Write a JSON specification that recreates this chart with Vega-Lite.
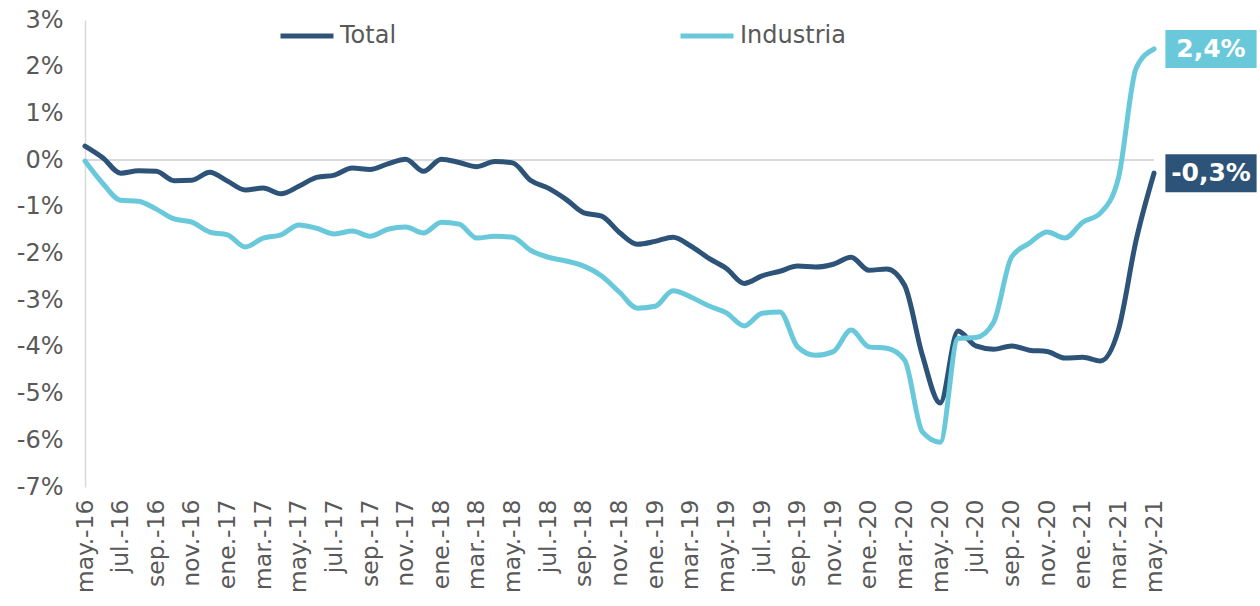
{
  "$schema": "https://vega.github.io/schema/vega-lite/v6.json",
  "width": 1069,
  "height": 467,
  "autosize": {"type": "none"},
  "padding": {"left": 85, "top": 20, "right": 106, "bottom": 119},
  "background": "white",
  "config": {
    "view": {"stroke": null},
    "font": "DejaVu Sans"
  },
  "datasets": {
    "serie": [
      {"mes": "may.-16", "Total": 0.30, "Industria": -0.02},
      {"mes": "jun.-16", "Total": 0.05, "Industria": -0.50},
      {"mes": "jul.-16", "Total": -0.28, "Industria": -0.86},
      {"mes": "ago.-16", "Total": -0.23, "Industria": -0.88},
      {"mes": "sep.-16", "Total": -0.24, "Industria": -1.05},
      {"mes": "oct.-16", "Total": -0.44, "Industria": -1.26},
      {"mes": "nov.-16", "Total": -0.43, "Industria": -1.33},
      {"mes": "dic.-16", "Total": -0.26, "Industria": -1.54},
      {"mes": "ene.-17", "Total": -0.45, "Industria": -1.60},
      {"mes": "feb.-17", "Total": -0.64, "Industria": -1.86},
      {"mes": "mar.-17", "Total": -0.60, "Industria": -1.67},
      {"mes": "abr.-17", "Total": -0.72, "Industria": -1.60},
      {"mes": "may.-17", "Total": -0.56, "Industria": -1.39},
      {"mes": "jun.-17", "Total": -0.37, "Industria": -1.46},
      {"mes": "jul.-17", "Total": -0.32, "Industria": -1.58},
      {"mes": "ago.-17", "Total": -0.17, "Industria": -1.52},
      {"mes": "sep.-17", "Total": -0.20, "Industria": -1.63},
      {"mes": "oct.-17", "Total": -0.08, "Industria": -1.48},
      {"mes": "nov.-17", "Total": 0.02, "Industria": -1.43},
      {"mes": "dic.-17", "Total": -0.24, "Industria": -1.56},
      {"mes": "ene.-18", "Total": 0.02, "Industria": -1.33},
      {"mes": "feb.-18", "Total": -0.05, "Industria": -1.37},
      {"mes": "mar.-18", "Total": -0.14, "Industria": -1.67},
      {"mes": "abr.-18", "Total": -0.03, "Industria": -1.63},
      {"mes": "may.-18", "Total": -0.06, "Industria": -1.65},
      {"mes": "jun.-18", "Total": -0.43, "Industria": -1.93},
      {"mes": "jul.-18", "Total": -0.60, "Industria": -2.08},
      {"mes": "ago.-18", "Total": -0.84, "Industria": -2.16},
      {"mes": "sep.-18", "Total": -1.13, "Industria": -2.27},
      {"mes": "oct.-18", "Total": -1.20, "Industria": -2.48},
      {"mes": "nov.-18", "Total": -1.55, "Industria": -2.83},
      {"mes": "dic.-18", "Total": -1.80, "Industria": -3.17},
      {"mes": "ene.-19", "Total": -1.74, "Industria": -3.13},
      {"mes": "feb.-19", "Total": -1.65, "Industria": -2.80},
      {"mes": "mar.-19", "Total": -1.84, "Industria": -2.93},
      {"mes": "abr.-19", "Total": -2.10, "Industria": -3.12},
      {"mes": "may.-19", "Total": -2.32, "Industria": -3.27},
      {"mes": "jun.-19", "Total": -2.64, "Industria": -3.55},
      {"mes": "jul.-19", "Total": -2.48, "Industria": -3.28},
      {"mes": "ago.-19", "Total": -2.38, "Industria": -3.25},
      {"mes": "sep.-19", "Total": -2.27, "Industria": -4.00},
      {"mes": "oct.-19", "Total": -2.29, "Industria": -4.18},
      {"mes": "nov.-19", "Total": -2.23, "Industria": -4.10},
      {"mes": "dic.-19", "Total": -2.08, "Industria": -3.64},
      {"mes": "ene.-20", "Total": -2.36, "Industria": -4.00},
      {"mes": "feb.-20", "Total": -2.33, "Industria": -4.03},
      {"mes": "mar.-20", "Total": -2.68, "Industria": -4.28},
      {"mes": "abr.-20", "Total": -4.18, "Industria": -5.82},
      {"mes": "may.-20", "Total": -5.20, "Industria": -6.04},
      {"mes": "jun.-20", "Total": -3.66, "Industria": -3.82},
      {"mes": "jul.-20", "Total": -3.98, "Industria": -3.80},
      {"mes": "ago.-20", "Total": -4.05, "Industria": -3.47},
      {"mes": "sep.-20", "Total": -3.98, "Industria": -2.08},
      {"mes": "oct.-20", "Total": -4.07, "Industria": -1.78},
      {"mes": "nov.-20", "Total": -4.10, "Industria": -1.54},
      {"mes": "dic.-20", "Total": -4.24, "Industria": -1.67},
      {"mes": "ene.-21", "Total": -4.22, "Industria": -1.33},
      {"mes": "feb.-21", "Total": -4.30, "Industria": -1.13},
      {"mes": "mar.-21", "Total": -3.64, "Industria": -0.39},
      {"mes": "abr.-21", "Total": -1.71, "Industria": 1.97},
      {"mes": "may.-21", "Total": -0.28, "Industria": 2.38}
    ]
  },
  "data": {"name": "serie"},
  "transform": [
    {"fold": ["Total", "Industria"], "as": ["serie", "valor"]}
  ],
  "encoding": {
    "x": {
      "field": "mes",
      "type": "ordinal",
      "sort": null,
      "scale": {"type": "point", "padding": 0},
      "axis": {
        "title": null,
        "values": ["may.-16","jul.-16","sep.-16","nov.-16","ene.-17","mar.-17","may.-17","jul.-17","sep.-17","nov.-17","ene.-18","mar.-18","may.-18","jul.-18","sep.-18","nov.-18","ene.-19","mar.-19","may.-19","jul.-19","sep.-19","nov.-19","ene.-20","mar.-20","may.-20","jul.-20","sep.-20","nov.-20","ene.-21","mar.-21","may.-21"],
        "labelAngle": -90,
        "labelFontSize": 23.5,
        "labelColor": "#595959",
        "labelPadding": 12,
        "domain": false,
        "ticks": false,
        "grid": false
      }
    },
    "y": {
      "field": "valor",
      "type": "quantitative",
      "scale": {"domain": [-7, 3], "nice": false, "zero": false},
      "axis": {
        "title": null,
        "values": [-7, -6, -5, -4, -3, -2, -1, 0, 1, 2, 3],
        "labelExpr": "datum.value + '%'",
        "labelFontSize": 24,
        "labelColor": "#595959",
        "labelPadding": 22,
        "ticks": false,
        "grid": false,
        "domain": true,
        "domainColor": "#D9D9D9",
        "domainWidth": 1.5
      }
    },
    "color": {
      "field": "serie",
      "type": "nominal",
      "scale": {"domain": ["Total", "Industria"], "range": ["#2D5478", "#69C9DB"]},
      "legend": {
        "title": null,
        "orient": "none",
        "legendX": 193,
        "legendY": -13,
        "direction": "horizontal",
        "symbolType": "stroke",
        "symbolSize": 2809,
        "symbolStrokeWidth": 5,
        "labelFontSize": 24,
        "labelColor": "#595959",
        "labelOffset": 4,
        "columnPadding": 273,
        "padding": 0
      }
    }
  },
  "layer": [
    {
      "mark": {"type": "rule", "color": "#D9D9D9", "strokeWidth": 2},
      "encoding": {"y": {"datum": 0}, "x": null, "color": null}
    },
    {
      "mark": {"type": "line", "strokeWidth": 5, "interpolate": "monotone", "strokeCap": "round"}
    },
    {
      "transform": [{"filter": "datum.mes == 'may.-21'"}],
      "mark": {"type": "point", "shape": "M-2.4,-1L2.4,-1L2.4,1L-2.4,1Z", "size": 1444, "filled": true, "opacity": 1, "xOffset": 57},
      "encoding": {"color": {"field": "serie", "type": "nominal", "legend": null}}
    },
    {
      "transform": [
        {"filter": "datum.mes == 'may.-21'"},
        {"calculate": "(datum.valor < 0 ? '-' : '') + replace(format(abs(datum.valor), '.1f'), '.', ',') + '%'", "as": "etiqueta"}
      ],
      "mark": {"type": "text", "color": "white", "fontWeight": "bold", "fontSize": 25, "xOffset": 57, "align": "center", "baseline": "middle"},
      "encoding": {"text": {"field": "etiqueta"}, "color": null}
    }
  ]
}
